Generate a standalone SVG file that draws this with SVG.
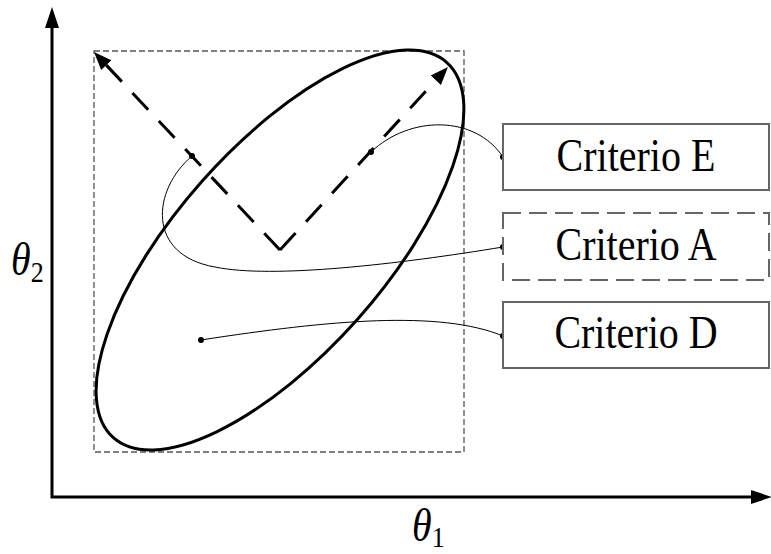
<svg xmlns="http://www.w3.org/2000/svg" width="771" height="554" viewBox="0 0 771 554">
<style>
.axis{fill:none;stroke:#000;stroke-width:3;stroke-linejoin:miter}
.region{fill:none;stroke:#555;stroke-width:1.3;stroke-dasharray:6 3}
.ell{fill:none;stroke:#000;stroke-width:3}
.dir{fill:none;stroke:#000;stroke-width:3;stroke-dasharray:23 15.5}
.conn{fill:none;stroke:#000;stroke-width:1}
.dot{fill:#000}
.box{fill:#fff;stroke:#666;stroke-width:2}
.dashed{stroke-dasharray:18 8}
.lbl{font-family:"Liberation Serif","Times New Roman",serif;font-size:40px;fill:#000}
.math{font-family:"Liberation Serif","Times New Roman",serif;font-size:40px;font-style:italic;fill:#000}
</style>
<defs>
<marker id="axhead" markerUnits="userSpaceOnUse" markerWidth="24" markerHeight="16" viewBox="0 -8 24 16" refX="0" refY="0" orient="auto-start-reverse">
<path d="M0,-7 L21,0 L0,7 Z" fill="#000"/>
</marker>
<marker id="dirhead" markerUnits="userSpaceOnUse" markerWidth="20" markerHeight="16" viewBox="0 -8 20 16" refX="0" refY="0" orient="auto">
<path d="M0,-7 L18,0 L0,7 Z" fill="#000"/>
</marker>
</defs>
<g id="axes">
<path class="axis" d="M52,28 L52,497 L751,497" marker-start="url(#axhead)" marker-end="url(#axhead)"/>
<text class="math" transform="translate(11,275) scale(1,1.17)">θ<tspan font-size="26" font-style="normal" dy="6">2</tspan></text>
<text class="math" transform="translate(412,541) scale(1,1.17)">θ<tspan font-size="26" font-style="normal" dy="5">1</tspan></text>
</g>
<g id="region">
<rect class="region" x="94" y="51" width="370" height="401"/>
</g>
<g id="ellipse">
<ellipse class="ell" cx="280" cy="250" rx="251" ry="104" transform="rotate(-48.4 280 250)"/>
</g>
<g id="directions">
<path class="dir" d="M280,250 L106.3,65.1" marker-end="url(#dirhead)"/>
<path class="dir" d="M280,250 L435.8,80.3" marker-end="url(#dirhead)"/>
</g>
<g id="connectors">
<path class="conn" d="M192,156 C152,190 146,255 215,267 C272,279 400,264 503,247"/>
<path class="conn" d="M371,152 C410,115 475,115 503,157"/>
<path class="conn" d="M201,340 C330,320 440,310 503,336"/>
<circle class="dot" cx="192" cy="156" r="3"/>
<circle class="dot" cx="371" cy="152" r="3"/>
<circle class="dot" cx="201" cy="340" r="3"/>
<circle class="dot" cx="503" cy="157" r="3"/>
<circle class="dot" cx="503" cy="247" r="3"/>
<circle class="dot" cx="503" cy="336" r="3"/>
</g>
<g id="criterioE">
<rect class="box" x="503" y="124" width="266" height="66"/>
<text class="lbl" text-anchor="middle" transform="translate(636,171) scale(1,1.17)">Criterio E</text>
</g>
<g id="criterioA">
<rect class="box dashed" x="503" y="213" width="266" height="67"/>
<text class="lbl" text-anchor="middle" transform="translate(636,260) scale(1,1.17)">Criterio A</text>
</g>
<g id="criterioD">
<rect class="box" x="503" y="302" width="266" height="66"/>
<text class="lbl" text-anchor="middle" transform="translate(636,348) scale(1,1.17)">Criterio D</text>
</g>
</svg>
